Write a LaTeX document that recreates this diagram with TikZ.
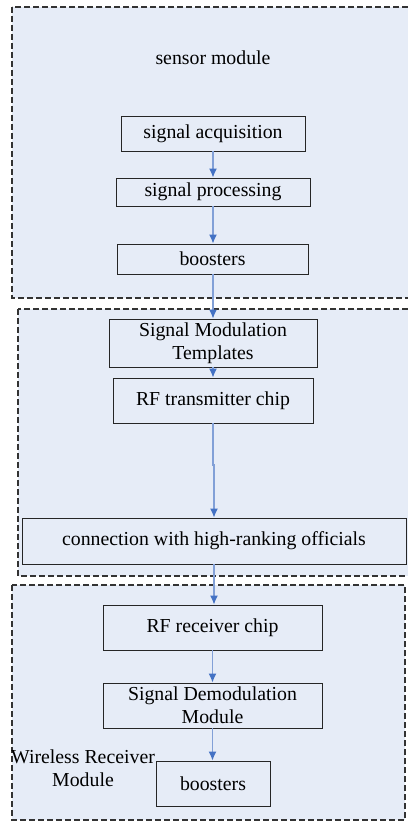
\documentclass[tikz,border=0pt]{standalone}
\usepackage{fontspec}
\setmainfont{Liberation Serif}
\usetikzlibrary{arrows.meta}
\definecolor{panelfill}{RGB}{230,236,247}
\definecolor{flowblue}{RGB}{68,114,196}
\definecolor{flowline}{RGB}{130,160,215}

\begin{document}
\begin{tikzpicture}[x=1pt, y=-1pt,
			stage/.style={draw=black!85, line width=0.8pt, inner sep=0pt, align=center, font=\fontsize{19.8}{23}\selectfont},
			panel/.style={draw=black!80, fill=panelfill, line width=1.1pt, dash pattern=on 6pt off 3pt},
			flow/.style={flowline, line width=1.4pt, -{Latex[length=9pt,width=8pt,flowblue]}},
			font=\fontsize{19.8}{23}\selectfont]
			\useasboundingbox (0,0) rectangle (407,821);
			% module panels
			\filldraw[panel] (12,7) rectangle (414,298);
			\filldraw[panel] (18,309) rectangle (414,576);
			\filldraw[panel] (12,585) rectangle (405,820);
			\node (sensor) at (213,58) {sensor module};
			\node[align=center] (wireless) at (83,768) {Wireless Receiver\\Module};
			% sensor module
			\node[stage, minimum width=184, minimum height=35] (acq) at (213,133.5) {signal acquisition};
			\node[stage, minimum width=194, minimum height=28] (proc) at (213,192) {signal processing};
			\node[stage, minimum width=191, minimum height=30] (boostA) at (212.5,259) {boosters};
			% transmitter
			\node[stage, minimum width=208, minimum height=48] (mod) at (213,343) {Signal Modulation\\Templates};
			\node[stage, minimum width=200, minimum height=45] (tx) at (213,400.5) {RF transmitter chip};
			\node[stage, minimum width=384, minimum height=46] (conn) at (214,541) {connection with high-ranking officials};
			% receiver
			\node[stage, minimum width=219, minimum height=45] (rx) at (212.5,627.5) {RF receiver chip};
			\node[stage, minimum width=219, minimum height=45] (demod) at (212.5,705.5) {Signal Demodulation\\Module};
			\node[stage, minimum width=114, minimum height=45] (boostB) at (213,783.5) {boosters};
			\coordinate (jog) at (213,465);
			% arrows
			\draw[flow] (acq.south -| proc.north) -- (proc.north);
			\draw[flow] (proc.south) -- (boostA.north -| proc.south);
			\draw[flow] (boostA.south -| mod.north) -- (mod.north);
			\draw[flow] (mod.south) -- (tx.north);
			\draw[flow] (tx.south) -- (jog) -- ++(1,0) -- (conn.north);
			\draw[flow] (conn.south) -- (rx.north -| conn.south);
			\draw[flow] (rx.south) -- (demod.north);
			\draw[flow] (demod.south) -- (boostB.north -| demod.south);
		\end{tikzpicture}
\end{document}
